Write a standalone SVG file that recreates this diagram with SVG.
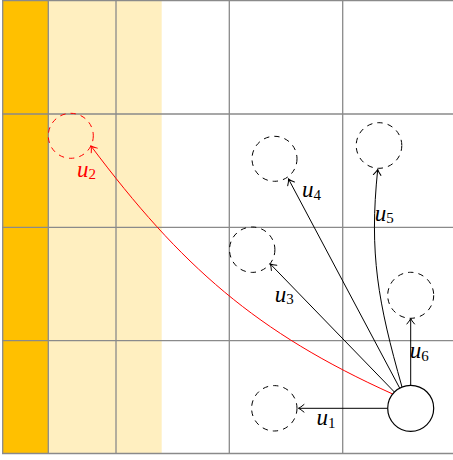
<svg xmlns="http://www.w3.org/2000/svg" width="453" height="460" viewBox="0 0 453 460">
<style>
.grid{stroke:#8a8a8a;stroke-width:1.3;fill:none}
.dash{fill:none;stroke:#000;stroke-width:1;stroke-dasharray:5.5 5}
.dashr{fill:none;stroke:#ff0000;stroke-width:1;stroke-dasharray:5.5 5}
.solid{fill:#fff;stroke:#000;stroke-width:1.2}
.edge{fill:none;stroke:#000;stroke-width:1;marker-end:url(#ah)}
.edger{fill:none;stroke:#ff0000;stroke-width:1;marker-end:url(#ahr)}
.lbl{font-family:"Liberation Serif",serif;font-style:italic;font-size:23px;fill:#000}
.lblr{fill:#ff0000}
.sub{font-style:normal;font-size:15px}
</style>
<defs>
<marker id="ah" markerUnits="userSpaceOnUse" orient="auto" markerWidth="12" markerHeight="12" refX="0" refY="0" viewBox="-8 -6 12 12" overflow="visible">
<path d="M-5.5,-3.8 Q-2,-0.8 0,0 Q-2,0.8 -5.5,3.8" fill="none" stroke="#000" stroke-width="1" stroke-linecap="round"/>
</marker>
<marker id="ahr" markerUnits="userSpaceOnUse" orient="auto" markerWidth="12" markerHeight="12" refX="0" refY="0" viewBox="-8 -6 12 12" overflow="visible">
<path d="M-5.5,-3.8 Q-2,-0.8 0,0 Q-2,0.8 -5.5,3.8" fill="none" stroke="#ff0000" stroke-width="1" stroke-linecap="round"/>
</marker>
</defs>
<g id="background">
<rect x="2.7" y="0.7" width="45.6" height="452.8" fill="#ffc000"/>
<rect x="48.3" y="0.7" width="113.4" height="452.8" fill="#ffefc0"/>
</g>
<g id="grid" class="grid">
<line x1="2.7" y1="0.7" x2="2.7" y2="453.5"/>
<line x1="48.3" y1="0.7" x2="48.3" y2="453.5"/>
<line x1="116" y1="0.7" x2="116" y2="453.5"/>
<line x1="229.3" y1="0.7" x2="229.3" y2="453.5"/>
<line x1="342.7" y1="0.7" x2="342.7" y2="453.5"/>
<line x1="2" y1="0.7" x2="453" y2="0.7"/>
<line x1="2" y1="114" x2="453" y2="114"/>
<line x1="2" y1="227.3" x2="453" y2="227.3"/>
<line x1="2" y1="340.7" x2="453" y2="340.7"/>
<line x1="2" y1="453.5" x2="453" y2="453.5"/>
</g>
<g id="connectors">
<path id="e1" class="edge" d="M387.7,408.3 L298.5,408.3"/>
<path id="e2" class="edger" d="M392.7,394 C256.2,332.5 181,266 91,146"/>
<path id="e3" class="edge" d="M394.4,392 L270.3,264"/>
<path id="e4" class="edge" d="M399.7,388.1 L288.5,179"/>
<path id="e5" class="edge" d="M402,387 C378,302 369,254 377.7,169.5"/>
<path id="e6" class="edge" d="M410.7,385.3 L410.7,318.5"/>
</g>
<g id="n0"><circle class="solid" cx="410.7" cy="408.3" r="23"/></g>
<g id="n1"><circle class="dash" cx="274.3" cy="408.3" r="22.7"/></g>
<g id="n2"><circle class="dashr" cx="70.8" cy="135.8" r="22.5"/></g>
<g id="n3"><circle class="dash" cx="252.2" cy="249.7" r="22.7"/></g>
<g id="n4"><circle class="dash" cx="274.5" cy="158.8" r="22.5"/></g>
<g id="n5"><circle class="dash" cx="379" cy="145.5" r="22.8"/></g>
<g id="n6"><circle class="dash" cx="410.7" cy="295.3" r="23"/></g>
<g id="labels">
<text class="lbl" x="316.5" y="425">u<tspan class="sub" dy="2.5">1</tspan></text>
<text class="lbl lblr" x="77" y="176.7">u<tspan class="sub" dy="2.5">2</tspan></text>
<text class="lbl" x="274.8" y="301.7">u<tspan class="sub" dy="2.5">3</tspan></text>
<text class="lbl" x="302.1" y="197.3">u<tspan class="sub" dy="2.5">4</tspan></text>
<text class="lbl" x="374.8" y="220.7">u<tspan class="sub" dy="2.5">5</tspan></text>
<text class="lbl" x="409.8" y="358.3">u<tspan class="sub" dy="2.5">6</tspan></text>
</g>
</svg>
